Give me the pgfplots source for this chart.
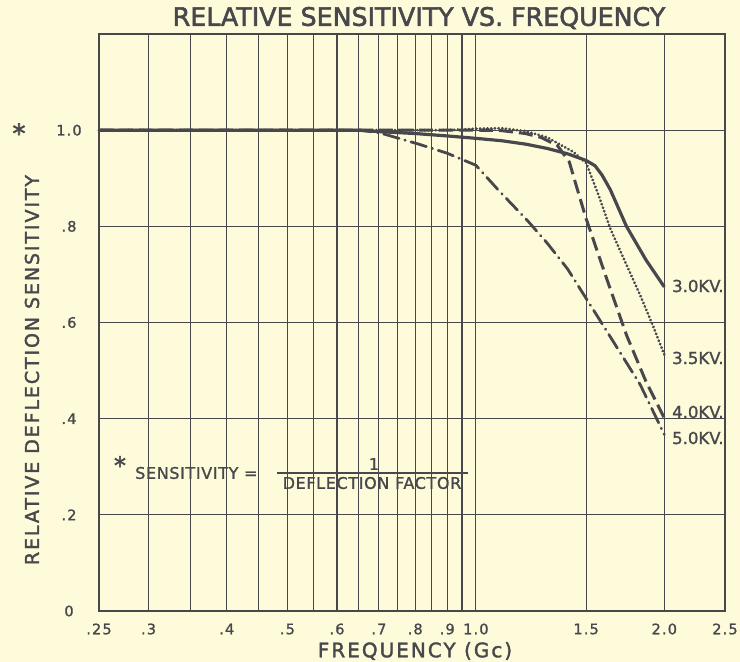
\documentclass[border=0pt]{standalone}
\usepackage{pgfplots}
\pgfplotsset{compat=1.18}
\usepackage{fontspec}
\setmainfont{DejaVu Sans}
\newfontfamily\tickfont[LetterSpace=8,FakeBold=1.2]{DejaVu Sans}
\newfontfamily\labfont[LetterSpace=10,FakeBold=1.8]{DejaVu Sans}
\newfontfamily\titlefont[FakeBold=2.2]{DejaVu Sans}
\newfontfamily\notefont[LetterSpace=4,FakeBold=1.2]{DejaVu Sans}
\newfontfamily\kvfont[FakeBold=1.2]{DejaVu Sans}
\definecolor{bg}{RGB}{254,251,219}
\definecolor{ink}{RGB}{72,72,76}
\begin{document}
\begin{tikzpicture}[x=1pt,y=1pt]
\fill[bg] (-99,-51) rectangle (641,611);
\useasboundingbox (-99,-51) rectangle (641,611);
\begin{axis}[at={(0,0)}, anchor=south west,
  width=626pt, height=577pt, scale only axis,
  xmode=log, xmin=0.25, xmax=2.5, ymin=0, ymax=1.2,
  xtick={0.25,0.3,0.35,0.4,0.45,0.5,0.55,0.6,0.65,0.7,0.75,0.8,0.85,0.9,0.95,1.0,1.5,2.0,2.5},
  xticklabels={.25,.3,{},.4,{},.5,{},.6,{},.7,{},.8,{},.9,{},1.0,1.5,2.0,2.5},
  ytick={0,0.2,0.4,0.6,0.8,1.0,1.2},
  yticklabels={0,.2,.4,.6,.8,1.0,{}},
  major tick length=0pt,
  grid=major,
  major grid style={draw=ink, line width=1.2pt},
  axis line style={draw=ink, line width=1.6pt},
  xticklabel style={anchor=center, yshift=-18pt, font=\tickfont\fontsize{14.5}{15}\selectfont, text=ink},
  yticklabel style={anchor=center, xshift=-30pt, font=\tickfont\fontsize{14.5}{15}\selectfont, text=ink},
  clip=false,
]
% 3.0 KV solid
\addplot[draw=ink, line width=3.2pt, line join=round] coordinates {
 (0.25,1.0) (0.65,1.0) (0.7,0.997) (0.8,0.993) (0.9,0.988) (1.0,0.983) (1.1,0.978) (1.2,0.971)
 (1.3,0.962) (1.4,0.951) (1.5,0.937) (1.55,0.926) (1.59,0.907) (1.64,0.876) (1.74,0.800)
 (1.87,0.730) (2.0,0.674)};
% 3.5 KV dotted
\addplot[draw=ink, line width=3pt, line cap=round, dash pattern=on 0.1pt off 3.6pt] coordinates {
 (0.25,1.0) (0.9,1.0) (1.0,1.003) (1.1,1.004) (1.2,0.998) (1.3,0.985) (1.43,0.955) (1.5,0.932)
 (1.57,0.865) (1.64,0.795) (1.74,0.72) (1.83,0.657) (1.92,0.592) (2.0,0.533)};
% 4.0 KV dashed
\addplot[draw=ink, line width=3pt, dash pattern=on 14pt off 6pt] coordinates {
 (0.25,1.0) (1.0,1.0) (1.1,0.999) (1.2,0.993) (1.27,0.985) (1.35,0.968) (1.41,0.934)
 (1.45,0.88) (1.50,0.816) (1.617,0.692) (1.74,0.574) (1.87,0.477) (2.0,0.401)};
% 5.0 KV dash-dot
\addplot[draw=ink, line width=2.8pt, line cap=round, dash pattern=on 16pt off 6pt on 0.5pt off 6pt] coordinates {
 (0.25,1.0) (0.65,1.0) (0.7,0.995) (0.81,0.971) (0.9,0.952) (1.0,0.927) (1.094,0.871)
 (1.207,0.813) (1.3,0.765) (1.4,0.712) (1.59,0.598) (1.83,0.471) (2.0,0.367)};
\end{axis}
% curve labels
\begin{scope}[every node/.style={anchor=west, text=ink, font=\kvfont\fontsize{16.5}{16.5}\selectfont, inner sep=0pt}]
\node at (573,325) {3.0KV.};
\node at (573,253) {3.5KV.};
\node at (573,199) {4.0KV.};
\node at (573,173) {5.0KV.};
\end{scope}
% title
\node[text=ink, font=\titlefont\fontsize{25.3}{26}\selectfont] at (320,593) {RELATIVE SENSITIVITY VS. FREQUENCY};
% y label
\node[text=ink, rotate=90, font=\labfont\fontsize{19}{19}\selectfont] at (-67,241) {RELATIVE DEFLECTION SENSITIVITY};
\node[text=ink, font=\titlefont\fontsize{26}{26}\selectfont] at (-80,478) {*};
% x label
\node[text=ink, font=\labfont\fontsize{20}{20}\selectfont] at (316,-40) {FREQUENCY (Gc)};
% annotation
\node[text=ink, font=\titlefont\fontsize{24}{24}\selectfont] at (21,146) {*};
\node[anchor=west, text=ink, font=\notefont\fontsize{16}{16}\selectfont, inner sep=0pt] at (36,138) {SENSITIVITY =};
\draw[ink, line width=1.4pt] (178,138) -- (369,138);
\node[text=ink, font=\notefont\fontsize{16}{16}\selectfont, inner sep=0pt] at (275,147) {1};
\node[text=ink, font=\notefont\fontsize{16}{16}\selectfont, inner sep=0pt] at (273,128) {DEFLECTION FACTOR};
\end{tikzpicture}
\end{document}
